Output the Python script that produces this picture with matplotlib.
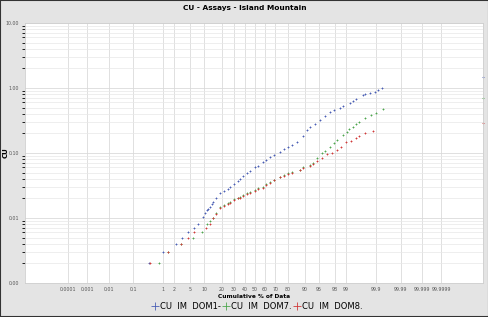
import numpy as np
import matplotlib
matplotlib.use("Agg")
import matplotlib.pyplot as plt
from matplotlib.patches import Rectangle
from statistics import NormalDist

# cumulative % of data / CU value
dom1_pct = [0.35, 0.96, 2.2, 3.3, 4.4, 6.0, 7.4, 9.3, 10.2, 11.0, 11.6, 12.6, 13.7, 14.3,
            16.1, 18.7, 21.5, 24.6, 26.2, 29.7, 33.3, 35.0, 38.0, 41.9, 44.9, 50.0, 53.0,
            58.1, 61.0, 65.0, 68.5, 73.8, 77.0, 80.0, 82.7, 85.7, 88.9, 90.7, 91.9, 93.7,
            95.1, 96.25, 97.2, 97.9, 98.5, 98.74, 99.22, 99.37, 99.52, 99.70, 99.76, 99.83,
            99.89, 99.913, 99.94]
dom1_cu = [0.002, 0.003, 0.004, 0.005, 0.006, 0.007, 0.008, 0.0105, 0.0118, 0.0133, 0.014,
           0.015, 0.0165, 0.0178, 0.020, 0.024, 0.026, 0.028, 0.030, 0.033, 0.037, 0.040,
           0.044, 0.049, 0.053, 0.060, 0.064, 0.073, 0.079, 0.088, 0.094, 0.105, 0.114,
           0.125, 0.135, 0.149, 0.18, 0.226, 0.25, 0.28, 0.32, 0.37, 0.42, 0.46, 0.50, 0.52,
           0.58, 0.63, 0.68, 0.78, 0.80, 0.83, 0.86, 0.92, 1.0]

dom7_pct = [0.73, 1.4, 3.0, 5.7, 8.9, 11.1, 12.6, 14.3, 16.1, 18.7, 21.5, 24.6, 26.2, 29.7,
            33.3, 35.0, 38.0, 41.9, 44.9, 50.0, 53.0, 58.1, 61.0, 65.0, 68.5, 73.8, 77.0,
            80.0, 82.7, 87.4, 88.9, 91.9, 93.0, 94.5, 95.8, 96.25, 97.2, 97.9, 98.15, 98.74,
            99.04, 99.2, 99.37, 99.5, 99.62, 99.76, 99.85, 99.90, 99.948]
dom7_cu = [0.002, 0.003, 0.004, 0.005, 0.006, 0.008, 0.009, 0.010, 0.012, 0.0149, 0.016,
           0.0172, 0.0177, 0.0195, 0.0205, 0.021, 0.0225, 0.0239, 0.025, 0.027, 0.0285,
           0.0304, 0.033, 0.036, 0.039, 0.0432, 0.046, 0.049, 0.051, 0.055, 0.060, 0.066,
           0.070, 0.085, 0.100, 0.108, 0.125, 0.145, 0.158, 0.19, 0.213, 0.23, 0.254, 0.28,
           0.30, 0.34, 0.38, 0.41, 0.48]

dom8_pct = [0.38, 1.4, 3.0, 4.4, 6.0, 10.6, 12.6, 14.3, 16.1, 18.7, 21.5, 24.6, 26.2, 29.7,
            33.3, 35.0, 38.0, 41.9, 44.9, 50.0, 53.0, 58.1, 61.0, 65.0, 68.5, 73.8, 77.0,
            80.0, 82.7, 87.4, 88.9, 91.9, 93.0, 94.5, 95.8, 96.8, 97.5, 98.15, 98.6, 99.0,
            99.3, 99.52, 99.6, 99.75, 99.87]
dom8_cu = [0.002, 0.003, 0.004, 0.005, 0.006, 0.007, 0.008, 0.010, 0.0115, 0.0145, 0.0155,
           0.0165, 0.017, 0.019, 0.020, 0.0205, 0.022, 0.023, 0.0245, 0.026, 0.0275, 0.029,
           0.032, 0.035, 0.038, 0.042, 0.045, 0.048, 0.050, 0.054, 0.058, 0.064, 0.068,
           0.076, 0.084, 0.095, 0.100, 0.111, 0.125, 0.150, 0.155, 0.168, 0.180, 0.205, 0.22]

# maximum values sit on the right border
max_pct = 99.9999997
max_cu = [1.48, 0.70, 0.29]

series_names = ["CU  IM  DOM1-", "CU  IM  DOM7.", "CU  IM  DOM8."]
colors = ["#4a5fb5", "#4ea64e", "#d03a3a"]

tick_pct = [0.0001, 0.001, 0.01, 0.1, 1, 2, 5, 10, 20, 30, 40, 50, 60, 70, 80, 90, 95,
            98, 99, 99.9, 99.99, 99.999, 99.9999]
tick_lbl = ["0.0001", "0.001", "0.01", "0.1", "1", "2", "5", "10", "20", "30", "40", "50",
            "60", "70", "80", "90", "95", "98", "99", "99.9", "99.99", "99.999", "99.9999"]

nd = NormalDist()


def fwd(p):
    p = np.clip(np.asarray(p, dtype=float) / 100.0, 1e-15, 1 - 1e-15)
    return np.vectorize(nd.inv_cdf, otypes=[float])(p)


def inv(z):
    return np.vectorize(nd.cdf, otypes=[float])(np.asarray(z, dtype=float)) * 100.0


fig = plt.figure(figsize=(4.89, 3.17), dpi=100, facecolor="#e4e4e4")
ax = fig.add_axes([25 / 489, 1 - 283 / 317, 458 / 489, 260 / 317])
ax.set_facecolor("white")
ax.set_xscale("function", functions=(fwd, inv))
ax.set_yscale("log")

data = [(dom1_pct, dom1_cu), (dom7_pct, dom7_cu), (dom8_pct, dom8_cu)]
for (px, cu), name, c, m in zip(data, series_names, colors, max_cu):
    ax.plot(px, cu, ls="none", marker="+", ms=2.0, mew=0.6, color=c, label=name)
    ax.plot([max_pct], [m], ls="none", marker="+", ms=2.0, mew=0.6, color=c, clip_on=False)

ax.set_xlim(inv(-5.85), max_pct)
ax.set_ylim(0.001, 10)

ax.set_xticks(tick_pct)
ax.set_xticklabels(tick_lbl)
ax.xaxis.set_minor_locator(matplotlib.ticker.NullLocator())
ax.set_yticks([0.001, 0.01, 0.1, 1, 10])
ax.set_yticklabels(["0.00", "0.01", "0.10", "1.00", "10.00"])
ax.tick_params(axis="both", length=0, labelsize=3.4, colors="#555555", pad=3)
ax.tick_params(axis="y", pad=4)

ax.grid(True, which="major", axis="x", color="#dadada", lw=0.6)
ax.grid(True, which="major", axis="y", color="#dadada", lw=0.6)
ax.grid(True, which="minor", axis="y", color="#e8e8e8", lw=0.5)
ax.set_axisbelow(True)
for s in ax.spines.values():
    s.set_color("#cfcfcf")
    s.set_linewidth(0.6)

ax.set_xlabel("Cumulative % of Data", fontsize=4.2, fontweight="bold", labelpad=1)
fig.text(5.5 / 489, 1 - 153 / 317, "CU", rotation=90, fontsize=5, fontweight="bold",
         ha="center", va="center")
fig.suptitle("CU - Assays - Island Mountain", fontsize=5.3, fontweight="bold", y=0.985)

fig.legend(loc="lower center", bbox_to_anchor=(0.525, -0.005), ncol=3, frameon=False,
           fontsize=6, handletextpad=0.1, columnspacing=0.1, markerscale=3.0,
           handlelength=1.0)

fig.patches.append(Rectangle((0, 0), 1, 1, transform=fig.transFigure, fill=False,
                             edgecolor="#333333", lw=1.5))

fig.savefig("out.png", dpi=100, facecolor=fig.get_facecolor())
